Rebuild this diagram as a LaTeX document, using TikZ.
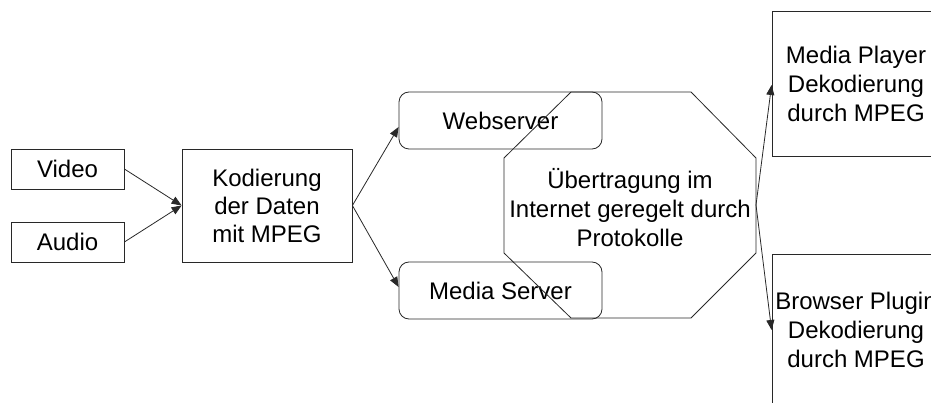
\documentclass[tikz,border=0pt]{standalone}
\usepackage{fontspec}
\setmainfont{Liberation Sans}
\usetikzlibrary{arrows.meta,calc}
\definecolor{lc}{RGB}{40,40,40}
\begin{document}
\begin{tikzpicture}[x=1pt,y=-1pt,line width=0.8pt,
  every node/.style={font=\fontsize{24}{28}\selectfont, align=center, inner sep=0pt, text=black},
  wide/.style={font=\fontsize{24}{29}\selectfont},
  box/.style={draw=lc},
  rbox/.style={draw=lc, rounded corners=10pt},
  arr/.style={draw=lc, -{Triangle[length=10pt,width=8pt]}}]
\clip (0,0) rectangle (931,403);
\node[box, minimum width=113pt, minimum height=40pt] (video) at (67.5,169) {Video};
\node[box, minimum width=113pt, minimum height=40pt] (audio) at (67.5,242) {Audio};
\node[box, minimum width=170pt, minimum height=113pt] (kod) at (267,205.5) {Kodierung\\der Daten\\mit MPEG};
\node[rbox, minimum width=203pt, minimum height=57pt] (web) at (500.5,120.5) {Webserver};
\node[rbox, minimum width=203pt, minimum height=57pt] (ms) at (500.5,290.5) {Media Server};
\draw[lc] (571,92) -- (691,92) -- (756,158) -- (756,253) -- (691,318) -- (571,318) -- (504,253) -- (504,158) -- cycle;
\node[wide] (inet) at (630,208) {Übertragung im\\Internet geregelt durch\\Protokolle};
\coordinate (oe) at (756,205);
\node[box, wide, minimum width=168pt, minimum height=145pt] (mp) at (856,83.5) {Media Player\\Dekodierung\\durch MPEG};
\node[box, wide, minimum width=168pt, minimum height=152pt] (bp) at (856,330) {Browser Plugin\\Dekodierung\\durch MPEG};
\draw[arr] (video.east) -- (kod.west);
\draw[arr] (audio.east) -- (kod.west);
\draw[arr] (kod.east) -- ([yshift=-6.5pt]web.west);
\draw[arr] (kod.east) -- ([yshift=3.5pt]ms.west);
\draw[arr] (oe) -- ([yshift=-1.5pt]mp.west);
\draw[arr] (oe) -- (bp.west);
\end{tikzpicture}
\end{document}
